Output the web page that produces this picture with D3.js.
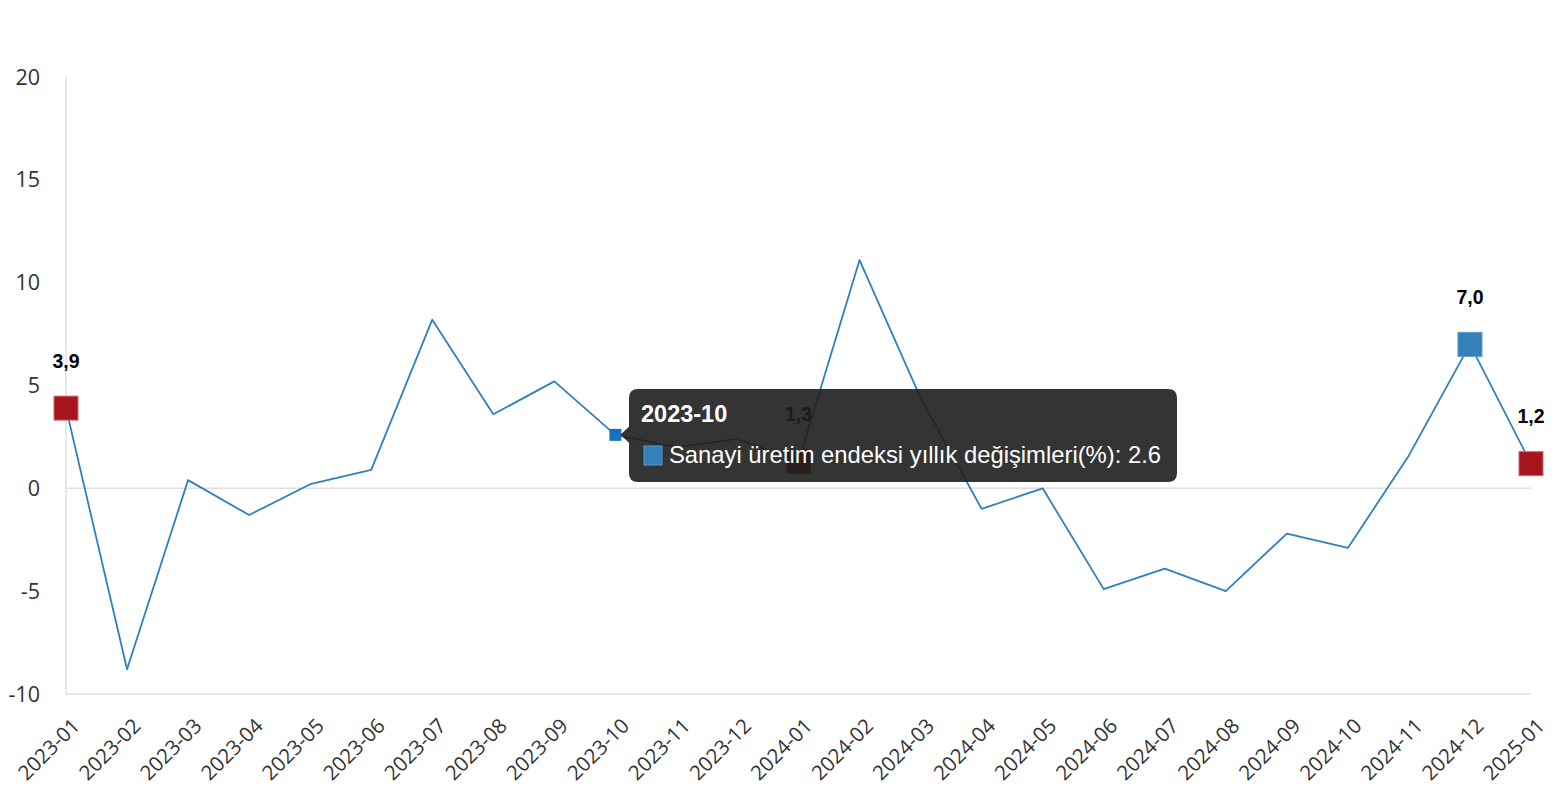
<!DOCTYPE html>
<html><head><meta charset="utf-8">
<script src="https://cdn.jsdelivr.net/npm/d3@7"></script>
<style>
html,body{margin:0;padding:0;background:#fff;}
svg{display:block;}
</style></head>
<body>
<svg id="chart" width="1556" height="800"></svg>
<script>
const categories = ["2023-01","2023-02","2023-03","2023-04","2023-05","2023-06","2023-07","2023-08","2023-09","2023-10","2023-11","2023-12","2024-01","2024-02","2024-03","2024-04","2024-05","2024-06","2024-07","2024-08","2024-09","2024-10","2024-11","2024-12","2025-01"];
const values = [3.9,-8.8,0.4,-1.3,0.2,0.9,8.2,3.6,5.2,2.6,2.0,2.4,1.3,11.1,4.4,-1.0,0.0,-4.9,-3.9,-5.0,-2.2,-2.9,1.6,7.0,1.2];
const yTicks = [-10,-5,0,5,10,15,20];
const highlightRed = ["2023-01","2024-01","2025-01"];
const highlightBlue = ["2024-12"];
const seriesName = "Sanayi üretim endeksi yıllık değişimleri(%)";
const hovered = "2023-10";

const svg = d3.select("#chart");
const x = d3.scalePoint().domain(categories).range([66, 1531]).padding(0);
const y = d3.scaleLinear().domain([-10, 20]).range([694, 77]);

// y axis line
svg.append("line").attr("x1", 66).attr("x2", 66).attr("y1", y(20)).attr("y2", y(-10))
  .attr("stroke", "#e0e0e0").attr("stroke-width", 1.5);
// zero line and bottom line
[0, -10].forEach(v => {
  svg.append("line").attr("x1", 66).attr("x2", 1531).attr("y1", y(v)).attr("y2", y(v))
    .attr("stroke", "#e0e0e0").attr("stroke-width", 1.5);
});

// y tick labels
svg.append("g").selectAll("text").data(yTicks).join("text")
  .attr("x", 40).attr("y", d => y(d)).attr("dy", "0.35em")
  .attr("text-anchor", "end")
  .attr("font-family", "'Open Sans', 'Noto Sans', sans-serif").attr("font-size", 21.5)
  .attr("fill", "#333").text(d => d);

// x tick labels
svg.append("g").selectAll("text").data(categories).join("text")
  .attr("transform", d => `translate(${x(d) + 10},${722}) rotate(-45)`)
  .attr("text-anchor", "end").attr("dy", "0.35em")
  .attr("font-family", "'Open Sans', 'Noto Sans', sans-serif").attr("font-size", 20.5)
  .attr("fill", "#333").text(d => d);

// line
const line = d3.line().x((d, i) => x(categories[i])).y(d => y(d));
svg.append("path").datum(values).attr("d", line)
  .attr("fill", "none").attr("stroke", "#3080bd").attr("stroke-width", 1.8)
  .attr("stroke-linejoin", "round");

// highlighted markers
const pts = categories.map((c, i) => ({c, v: values[i]}));
const marked = pts.filter(p => highlightRed.includes(p.c) || highlightBlue.includes(p.c));
svg.append("g").selectAll("rect").data(marked).join("rect")
  .attr("x", p => x(p.c) - 12).attr("y", p => y(p.v) - 12)
  .attr("width", 24).attr("height", 24)
  .attr("fill", p => highlightRed.includes(p.c) ? "#a8141b" : "#3380bb")
  .attr("stroke", p => highlightRed.includes(p.c) ? "#c56b6f" : "#5a98c8").attr("stroke-width", 1);
svg.append("g").selectAll("text").data(marked).join("text")
  .attr("x", p => x(p.c)).attr("y", p => y(p.v) - 47)
  .attr("text-anchor", "middle").attr("dy", "0.35em")
  .attr("font-family", "Arial, 'Liberation Sans', sans-serif").attr("font-size", 19.5)
  .attr("font-weight", "bold").attr("fill", "#000")
  .text(p => p.v.toFixed(1).replace(".", ","));

// hovered point marker
const hi = categories.indexOf(hovered);
const hx = x(hovered), hy = y(values[hi]);
svg.append("rect").attr("x", hx - 6).attr("y", hy - 6).attr("width", 12).attr("height", 12)
  .attr("fill", "#1a70c0");

// tooltip
const tx = 629, ty = 389, tw = 548, th = 93, r = 9;
const tip = svg.append("g");
const ay = hy;
const path = `M${tx + r},${ty} H${tx + tw - r} Q${tx + tw},${ty} ${tx + tw},${ty + r} V${ty + th - r} Q${tx + tw},${ty + th} ${tx + tw - r},${ty + th} H${tx + r} Q${tx},${ty + th} ${tx},${ty + th - r} V${ay + 8} L${hx + 5},${ay} L${tx},${ay - 8} V${ty + r} Q${tx},${ty} ${tx + r},${ty} Z`;
tip.append("path").attr("d", path).attr("fill", "rgba(30,30,30,0.9)");
tip.append("text").attr("x", tx + 12).attr("y", ty + 33)
  .attr("font-family", "Arial, 'Liberation Sans', sans-serif").attr("font-size", 23.5)
  .attr("font-weight", "bold").attr("fill", "#fff").text(hovered);
tip.append("rect").attr("x", tx + 15).attr("y", ty + 57).attr("width", 18).attr("height", 19)
  .attr("fill", "#3380bb").attr("stroke", "#5a98c8").attr("stroke-width", 1);
tip.append("text").attr("x", tx + 40).attr("y", ty + 74)
  .attr("font-family", "Arial, 'Liberation Sans', sans-serif").attr("font-size", 23.8)
  .attr("fill", "#fff").text(`${seriesName}: ${values[hi]}`);
</script>
</body></html>
